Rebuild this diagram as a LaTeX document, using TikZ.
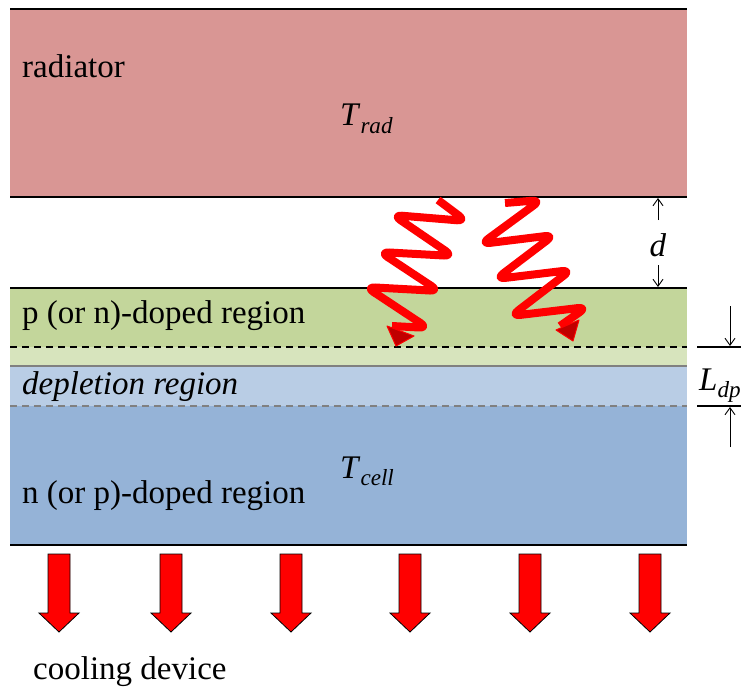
\documentclass[tikz,border=0pt]{standalone}
\usepackage{fontspec}
\setmainfont{Liberation Serif}
\usetikzlibrary{arrows.meta}
\definecolor{radc}{HTML}{D99694}
\definecolor{pgreen}{HTML}{C3D69B}
\definecolor{lgreen}{HTML}{D7E4BD}
\definecolor{lblue}{HTML}{B9CDE5}
\definecolor{nblue}{HTML}{95B3D7}
\definecolor{headc}{HTML}{C00000}

\begin{document}
\begin{tikzpicture}[x=1pt,y=-1pt,font=\fontsize{33}{38}\selectfont,
  lbl/.style={anchor=base west,inner sep=0},
  edge/.style={line width=2.5pt},
  dim/.style={line width=0.9pt,-{Straight Barb[length=7pt,width=10pt]}},
  wave/.style={red,line width=8pt,rounded corners=9pt,line join=round},
  whead/.style={fill=headc,draw=red,line width=1pt,line join=round},
  cool/.style={draw=black,line width=0.8pt,fill=red}]
  \useasboundingbox (0,0) rectangle (741,687);
  % layers
  \fill[radc] (10,9) rectangle (687,197);
  \fill[pgreen] (10,288) rectangle (687,347);
  \fill[lgreen] (10,347) rectangle (687,366);
  \fill[lblue] (10,366) rectangle (687,406);
  \fill[nblue] (10,406) rectangle (687,545);
  \draw[edge] (10,9) -- (687,9);
  \draw[edge] (10,197) -- (687,197);
  \draw[edge] (10,288) -- (687,288);
  \draw[edge] (10,545) -- (687,545);
  \draw[line width=1.3pt,dash pattern=on 7pt off 5pt] (10,347) -- (687,347);
  \draw[line width=2pt,gray] (10,366) -- (687,366);
  \draw[line width=1.8pt,gray,dash pattern=on 7pt off 5pt] (10,406) -- (687,406);
  % labels
  \node[lbl] (rad) at (22,78) {radiator};
  \node[lbl] (trad) at (340,126) {\textit{T}\textsubscript{\itshape rad}};
  \node[lbl] (pdop) at (22,323) {p (or n)-doped region};
  \node[lbl] (depl) at (22,394) {\textit{depletion region}};
  \node[lbl] (tcell) at (340,478) {\textit{T}\textsubscript{\itshape cell}};
  \node[lbl] (ndop) at (22,503) {n (or p)-doped region};
  \node[lbl] (cool) at (33,679) {cooling device};
  % gap d
  \node[inner sep=0] (d) at (658,245) {\textit{d}};
  \coordinate (dtop) at (658,198);
  \coordinate (dbot) at (658,287);
  \draw[dim] (658,220) -- (dtop);
  \draw[dim] (658,265) -- (dbot);
  % depletion width
  \node[lbl] (ldp) at (699,390) {\textit{L}\textsubscript{\itshape dp}};
  \draw[line width=1.3pt] (697,347) -- (741,347);
  \draw[line width=1.3pt] (697,406) -- (741,406);
  \coordinate (ltop) at (730,346);
  \coordinate (lbot) at (730,407);
  \draw[dim] (730,306) -- (ltop);
  \draw[dim] (730,447) -- (lbot);
  % photons
  \draw[wave] (438,200) -- (466,221) -- (393,215) -- (453,256) -- (380,252)
    -- (439,291) -- (366,287) -- (428,328) -- (392,326);
  \fill[whead] (387,326) -- (414,336) -- (396,346) -- cycle;
  \draw[wave] (505,203) -- (541,200) -- (481,244) -- (554,235) -- (496,279)
    -- (571,270) -- (511,316) -- (587,307) -- (560,326);
  \fill[whead] (556,330) -- (579,320) -- (573,341) -- cycle;
  % cooling arrows
  \foreach \x in {59,171,291,410,530,650}
    \draw[cool] (\x-11,554) -- (\x+11,554) -- (\x+11,613) -- (\x+20,613)
      -- (\x,632) -- (\x-20,613) -- (\x-11,613) -- cycle;
\end{tikzpicture}
\end{document}
